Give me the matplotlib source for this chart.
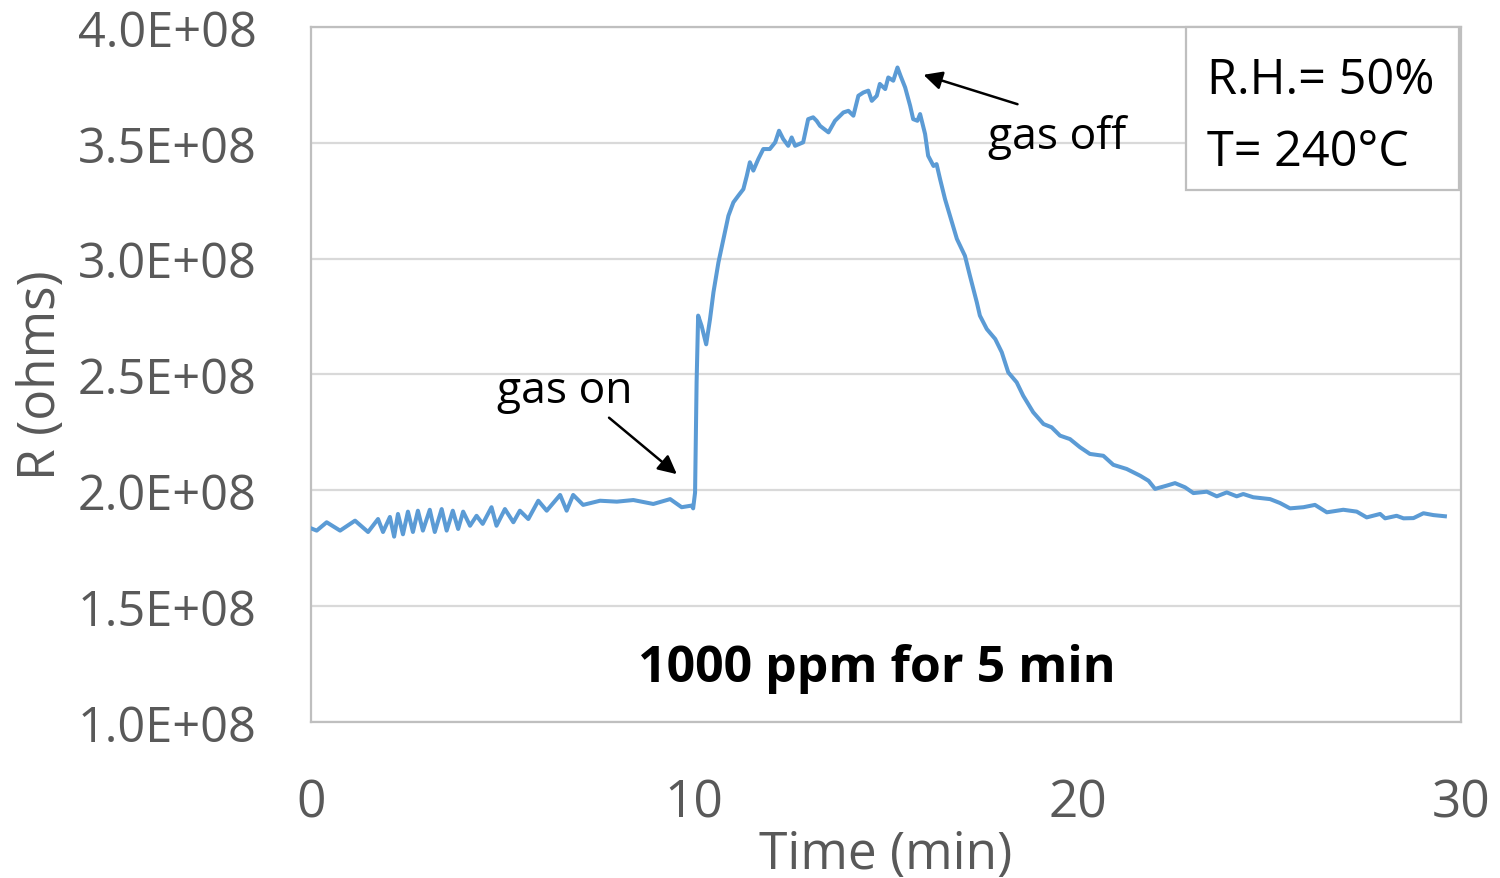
import matplotlib.pyplot as plt
import numpy as np
from matplotlib.patches import Rectangle

# sensor resistance vs time
t_min = [0.00, 0.15, 0.41, 0.76, 1.15, 1.49, 1.75, 1.88, 2.06, 2.17,
         2.27, 2.40, 2.53, 2.66, 2.79, 2.92, 3.10, 3.23, 3.41, 3.54,
         3.70, 3.84, 3.97, 4.15, 4.32, 4.48, 4.71, 4.84, 5.06, 5.28,
         5.45, 5.67, 5.93, 6.15, 6.50, 6.67, 6.84, 7.10, 7.54, 7.98,
         8.41, 8.93, 9.37, 9.67, 9.93, 9.97, 10.02, 10.06, 10.10, 10.19,
         10.31, 10.41, 10.50, 10.63, 10.76, 10.89, 11.02, 11.15, 11.28, 11.37,
         11.45, 11.54, 11.67, 11.80, 11.97, 12.11, 12.21, 12.32, 12.45, 12.54,
         12.63, 12.84, 12.97, 13.10, 13.19, 13.28, 13.50, 13.67, 13.89, 14.02,
         14.15, 14.28, 14.41, 14.54, 14.63, 14.76, 14.84, 14.98, 15.06, 15.19,
         15.30, 15.38, 15.50, 15.63, 15.71, 15.82, 15.89, 16.02, 16.10, 16.24,
         16.32, 16.41, 16.54, 16.67, 16.85, 17.06, 17.19, 17.37, 17.45, 17.63,
         17.85, 18.02, 18.19, 18.41, 18.58, 18.84, 19.11, 19.32, 19.54, 19.80,
         20.06, 20.32, 20.67, 20.93, 21.28, 21.63, 21.85, 22.02, 22.32, 22.54,
         22.80, 23.02, 23.37, 23.63, 23.89, 24.15, 24.32, 24.58, 25.02, 25.28,
         25.54, 25.89, 26.19, 26.50, 26.93, 27.28, 27.54, 27.89, 28.02, 28.32,
         28.50, 28.76, 29.02, 29.28, 29.58]

# in units of 1E+08 ohms
r_e8 = [1.836, 1.826, 1.862, 1.826, 1.869, 1.820, 1.876, 1.820, 1.885, 1.800,
        1.898, 1.810, 1.908, 1.820, 1.912, 1.826, 1.916, 1.820, 1.919, 1.826,
        1.912, 1.833, 1.908, 1.847, 1.890, 1.855, 1.927, 1.847, 1.919, 1.862,
        1.912, 1.876, 1.955, 1.912, 1.980, 1.912, 1.980, 1.937, 1.955, 1.951,
        1.958, 1.941, 1.962, 1.927, 1.934, 1.922, 1.990, 2.467, 2.754, 2.710,
        2.630, 2.739, 2.855, 2.984, 3.085, 3.185, 3.243, 3.272, 3.300, 3.358,
        3.416, 3.380, 3.430, 3.473, 3.473, 3.502, 3.552, 3.516, 3.487, 3.523,
        3.487, 3.502, 3.602, 3.610, 3.595, 3.573, 3.545, 3.595, 3.631, 3.638,
        3.617, 3.703, 3.717, 3.725, 3.681, 3.703, 3.754, 3.732, 3.782, 3.768,
        3.825, 3.789, 3.739, 3.660, 3.602, 3.595, 3.624, 3.538, 3.444, 3.400,
        3.408, 3.344, 3.257, 3.185, 3.085, 3.012, 2.926, 2.811, 2.754, 2.696,
        2.653, 2.596, 2.509, 2.466, 2.408, 2.337, 2.286, 2.272, 2.236, 2.221,
        2.186, 2.157, 2.149, 2.110, 2.092, 2.063, 2.041, 2.006, 2.020, 2.031,
        2.013, 1.988, 1.994, 1.974, 1.991, 1.974, 1.984, 1.970, 1.962, 1.945,
        1.922, 1.927, 1.937, 1.905, 1.916, 1.908, 1.883, 1.898, 1.879, 1.890,
        1.879, 1.880, 1.901, 1.893, 1.888]
r_ohm = np.array(r_e8) * 1e8

x_ticks = [0, 10, 20, 30]
y_ticks = [1.0e8, 1.5e8, 2.0e8, 2.5e8, 3.0e8, 3.5e8, 4.0e8]
y_ticklabels = ['1.0E+08', '1.5E+08', '2.0E+08', '2.5E+08', '3.0E+08', '3.5E+08', '4.0E+08']

plt.rcParams['font.family'] = ['Open Sans', 'DejaVu Sans']
grey_txt = '#595959'

fig = plt.figure(figsize=(15, 8.79), dpi=100)
ax = fig.add_axes([0.2073, 0.1775, 0.7667, 0.7907])

ax.plot(t_min, r_ohm, color='#5B9BD5', lw=2.9, zorder=3,
        solid_joinstyle='round')

ax.set_xlim(0, 30)
ax.set_ylim(1.0e8, 4.0e8)
ax.set_xticks(x_ticks)
ax.set_xticklabels([str(v) for v in x_ticks])
ax.set_yticks(y_ticks)
ax.set_yticklabels(y_ticklabels)
ax.tick_params(axis='x', length=0, pad=40, labelsize=37, labelcolor=grey_txt)
ax.tick_params(axis='y', length=0, pad=39, labelsize=35, labelcolor=grey_txt)
ax.grid(axis='y', color='#D9D9D9', lw=1.6, zorder=1)
for s in ax.spines.values():
    s.set_color('#BFBFBF')
    s.set_linewidth(1.6)

ax.set_xlabel('Time (min)', fontsize=37, color=grey_txt, labelpad=0)
ax.set_ylabel('R (ohms)', fontsize=37, color=grey_txt, labelpad=8)

# annotations
arrow = dict(arrowstyle='-|>', color='black', lw=1.8, mutation_scale=28)
ax.annotate('', xy=(9.60, 2.062e8), xytext=(7.72, 2.321e8), arrowprops=arrow)
ax.annotate('', xy=(15.91, 3.797e8), xytext=(18.50, 3.663e8), arrowprops=arrow)
ax.text(4.85, 2.382e8, 'gas on', fontsize=32, color='black', va='baseline', ha='left')
ax.text(17.66, 3.477e8, 'gas off', fontsize=32, color='black', va='baseline', ha='left')
ax.text(14.77, 1.178e8, '1000 ppm for 5 min', fontsize=36, fontweight='bold',
        color='black', va='baseline', ha='center')

# conditions box
ax.add_patch(Rectangle((0.761, 0.765), 0.237, 0.235, transform=ax.transAxes,
                       facecolor='white', edgecolor='#BFBFBF', lw=1.6, zorder=4,
                       clip_on=False))
ax.text(0.779, 0.905, 'R.H.= 50%', transform=ax.transAxes, fontsize=35,
        va='baseline', ha='left', zorder=5)
ax.text(0.779, 0.802, 'T= 240°C', transform=ax.transAxes, fontsize=35,
        va='baseline', ha='left', zorder=5)

fig.savefig('out.png', dpi=100)
